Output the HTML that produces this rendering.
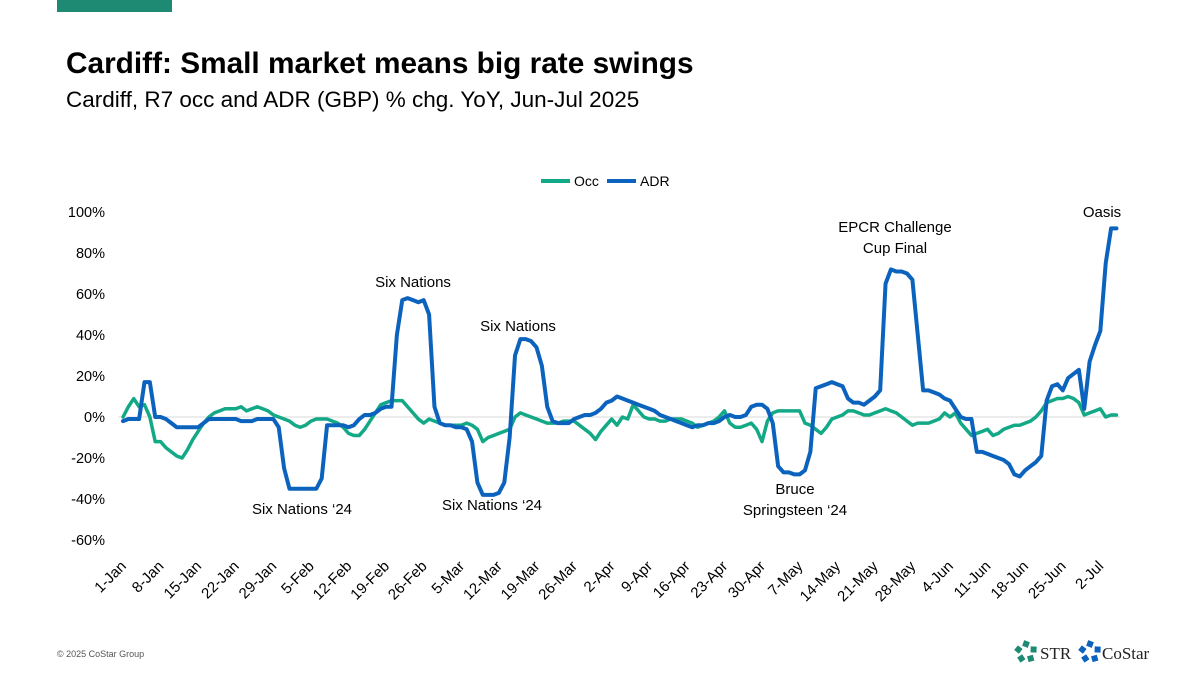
<!DOCTYPE html>
<html><head><meta charset="utf-8"><style>
body{margin:0;width:1200px;height:675px;background:#fff;overflow:hidden;font-family:"Liberation Sans",sans-serif;position:relative}
.t{position:absolute;white-space:nowrap}
</style></head><body>
<div style="position:absolute;left:57px;top:0;width:115px;height:12px;background:#1f8a73"></div>
<div class="t" style="left:66px;top:47px;font-size:29.8px;font-weight:bold;color:#000">Cardiff: Small market means big rate swings</div>
<div class="t" style="left:66px;top:87px;font-size:22.5px;color:#000">Cardiff, R7 occ and ADR (GBP) % chg. YoY, Jun-Jul 2025</div>
<div class="t" style="left:57px;top:649px;font-size:9px;color:#555">© 2025 CoStar Group</div>
<svg id="chart" width="1200" height="675" style="position:absolute;left:0;top:0"></svg>
<script>
const categoriesStart = '2025-01-01';
const yTicks = [100,80,60,40,20,0,-20,-40,-60];
const xTickLabels = ['1-Jan','8-Jan','15-Jan','22-Jan','29-Jan','5-Feb','12-Feb','19-Feb','26-Feb','5-Mar','12-Mar','19-Mar','26-Mar','2-Apr','9-Apr','16-Apr','23-Apr','30-Apr','7-May','14-May','21-May','28-May','4-Jun','11-Jun','18-Jun','25-Jun','2-Jul'];
const occ = [0,5,9,5,6,0,-12,-12,-15,-17,-19,-20,-16,-11,-7,-3,0,2,3,4,4,4,5,3,4,5,4,3,1,0,-1,-2,-4,-5,-4,-2,-1,-1,-1,-2,-3,-5,-8,-9,-9,-6,-2,2,6,7,8,8,8,5,2,-1,-3,-1,-2,-3,-4,-4,-4,-4,-3,-4,-6,-12,-10,-9,-8,-7,-6,0,2,1,0,-1,-2,-3,-3,-3,-2,-2,-2,-4,-6,-8,-11,-7,-4,-1,-4,0,-1,6,3,0,-1,-1,-2,-2,-1,-1,-1,-2,-3,-5,-4,-3,-2,0,3,-3,-5,-5,-4,-3,-6,-12,-2,2,3,3,3,3,3,-3,-4,-6,-8,-5,-1,0,1,3,3,2,1,1,2,3,4,3,2,0,-2,-4,-3,-3,-3,-2,-1,2,0,2,-3,-6,-9,-8,-7,-6,-9,-8,-6,-5,-4,-4,-3,-2,0,3,7,8,9,9,10,9,7,1,2,3,4,0,1,1];
const adr = [-2,-1,-1,-1,17,17,0,0,-1,-3,-5,-5,-5,-5,-5,-3,-1,-1,-1,-1,-1,-1,-2,-2,-2,-1,-1,-1,-1,-5,-25,-35,-35,-35,-35,-35,-35,-30,-4,-4,-4,-4,-5,-4,-1,1,1,2,4,5,5,40,57,58,57,56,57,50,5,-3,-4,-4,-5,-5,-6,-12,-32,-38,-38,-38,-37,-32,-10,30,38,38,37,34,25,5,-2,-3,-3,-3,-1,0,1,1,2,4,7,8,10,9,8,7,6,5,4,3,1,0,-1,-2,-3,-4,-5,-4,-4,-3,-3,-2,0,1,0,0,1,5,6,6,4,-3,-24,-27,-27,-28,-28,-26,-17,14,15,16,17,16,15,9,7,7,6,8,10,13,65,72,71,71,70,67,40,13,13,12,11,9,8,4,0,-1,-1,-17,-17,-18,-19,-20,-21,-23,-28,-29,-26,-24,-22,-19,8,15,16,13,19,21,23,4,27,35,42,75,92,92];
const annLabels = [['Six Nations'],['Six Nations ‘24'],['Six Nations'],['Six Nations ‘24'],['Bruce','Springsteen ‘24'],['EPCR Challenge','Cup Final'],['Oasis']];
const annPos = [[413,287],[302,514],[518,331],[492,510],[795,494],[895,232],[1102,217]];

const NS='http://www.w3.org/2000/svg';
const svg=document.getElementById('chart');
const x0=123, pxDay=5.37;
const xs=d=>x0+d*pxDay;
const ys=v=>417-v*2.05;
function mk(tag,attrs,parent){const e=document.createElementNS(NS,tag);for(const k in attrs)e.setAttribute(k,attrs[k]);(parent||svg).appendChild(e);return e;}
const FONT='"Liberation Sans",sans-serif';
let zl=mk('line',{x1:118,x2:1120,y1:ys(0),y2:ys(0),stroke:'#d9d9d9','stroke-width':1});


yTicks.forEach(v=>{
  const t=mk('text',{x:105,y:ys(v)+5,'text-anchor':'end','font-size':14.5,'font-family':FONT,fill:'#000'});
  t.textContent=v+'%';
  
  
});
xTickLabels.forEach((lab,i)=>{
  const x=xs(i*7)+4, y=567;
  const t=mk('text',{x:x,y:y,'text-anchor':'end','font-size':15,'font-family':FONT,fill:'#000',transform:`rotate(-45 ${x} ${y})`});
  t.textContent=lab;
  
  
});
function line(data,color,w,name){
  const p=mk('polyline',{points:data.map((v,i)=>xs(i)+','+ys(v)).join(' '),fill:'none',stroke:color,'stroke-width':w,'stroke-linejoin':'round','stroke-linecap':'round'});
  
  
}
line(occ,'#13a986',3.5,'occ-line');
line(adr,'#0c63bd',4,'adr-line');
let l1=mk('line',{x1:541,x2:570,y1:181,y2:181,stroke:'#13a986','stroke-width':4});


let lt1=mk('text',{x:574,y:186,'font-size':14,'font-family':FONT});lt1.textContent='Occ';


let l2=mk('line',{x1:607,x2:636,y1:181,y2:181,stroke:'#0c63bd','stroke-width':4});


let lt2=mk('text',{x:640,y:186,'font-size':14,'font-family':FONT});lt2.textContent='ADR';


annLabels.forEach((lines,i)=>{
  lines.forEach((s,j)=>{
    const t=mk('text',{x:annPos[i][0],y:annPos[i][1]+j*21,'text-anchor':'middle','font-size':15,'font-family':FONT,fill:'#000'});
    t.textContent=s;
    
    
  });
});
function logo(cx,cy,color,name){
  const g=mk('g',{});
  
  
  for(let k=0;k<5;k++){const a=k*72*Math.PI/180;mk('rect',{x:cx-3+8*Math.sin(a),y:cy-3-8*Math.cos(a),width:6,height:6,fill:color,transform:`rotate(${k*72+20} ${cx+8*Math.sin(a)} ${cy-8*Math.cos(a)})`},g);}
}
logo(1026,652,'#1f8a73','str-logo-icon');
logo(1090,652,'#0c63bd','costar-logo-icon');
let s1=mk('text',{x:1040,y:659,'font-size':17,'font-family':'"Liberation Serif",serif',fill:'#222'});s1.textContent='STR';


let s2=mk('text',{x:1102,y:659,'font-size':17,'font-family':'"Liberation Serif",serif',fill:'#222'});s2.textContent='CoStar';


</script>
</body></html>
